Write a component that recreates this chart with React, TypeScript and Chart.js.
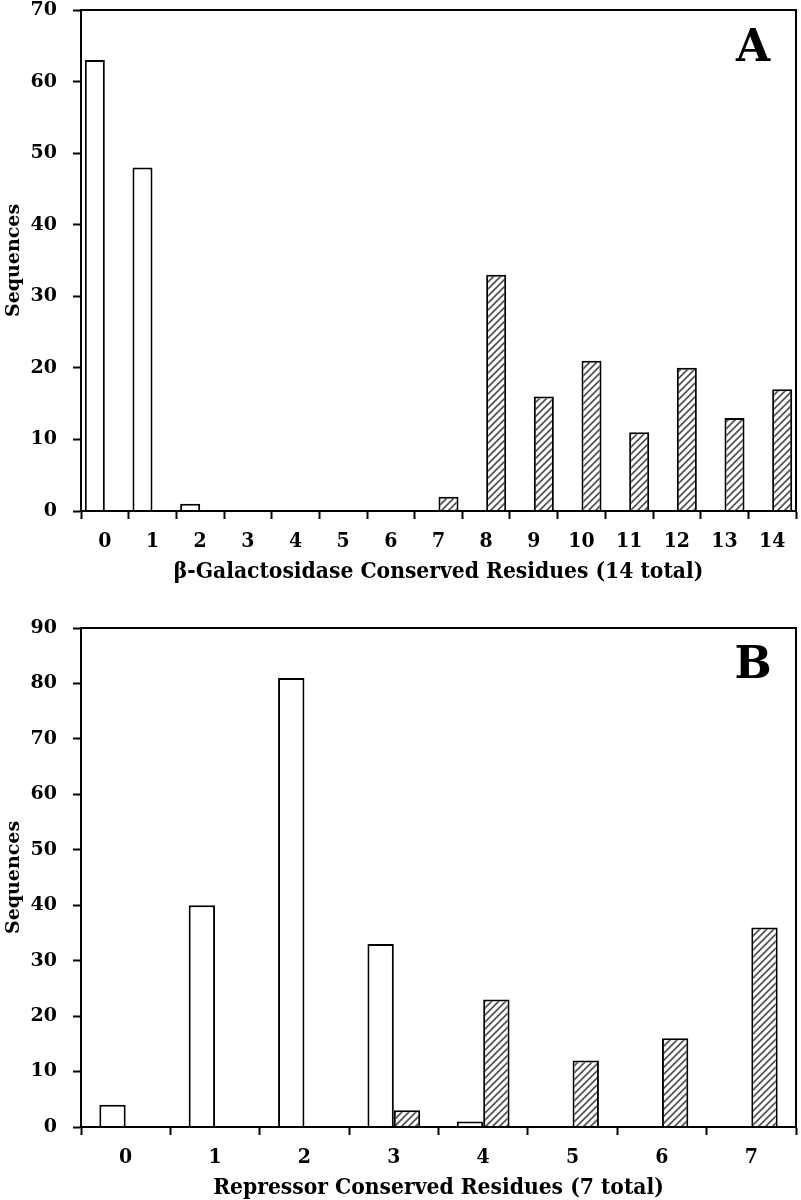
import React, { useEffect, useRef } from 'react';
import { Chart, registerables } from 'chart.js';

Chart.register(...registerables);

const categoriesA = ['0', '1', '2', '3', '4', '5', '6', '7', '8', '9', '10', '11', '12', '13', '14'];
const plainA = [63, 48, 1, 0, 0, 0, 0, 0, 0, 0, 0, 0, 0, 0, 0];
const hatchedA = [0, 0, 0, 0, 0, 0, 0, 2, 33, 16, 21, 11, 20, 13, 17];
const yMaxA = 70;
const titleA = 'β-Galactosidase Conserved Residues (14 total)';

const categoriesB = ['0', '1', '2', '3', '4', '5', '6', '7'];
const plainB = [4, 40, 81, 33, 1, 0, 0, 0];
const hatchedB = [0, 0, 0, 3, 23, 12, 16, 36];
const yMaxB = 90;
const titleB = 'Repressor Conserved Residues (7 total)';

const yTitle = 'Sequences';

const SERIF = "'DejaVu Serif', serif";
const COND = "'DejaVu Serif Condensed', 'DejaVu Serif', serif";

function makeHatch(): CanvasPattern | string {
  const c = document.createElement('canvas');
  const s = 7;
  c.width = s;
  c.height = s;
  const g = c.getContext('2d');
  if (!g) return '#888';
  g.fillStyle = '#ffffff';
  g.fillRect(0, 0, s, s);
  g.strokeStyle = '#555555';
  g.lineWidth = 1.8;
  g.beginPath();
  g.moveTo(-1, s + 1);
  g.lineTo(s + 1, -1);
  g.moveTo(-1, 1);
  g.lineTo(1, -1);
  g.moveTo(s - 1, s + 1);
  g.lineTo(s + 1, s - 1);
  g.stroke();
  const p = g.createPattern(c, 'repeat');
  return p || '#888';
}

const framePlugin = {
  id: 'frameAndLetter',
  afterDraw(chart: any, _args: any, opts: any) {
    const { ctx, chartArea } = chart;
    ctx.save();
    ctx.strokeStyle = '#000';
    ctx.lineWidth = 2;
    ctx.strokeRect(chartArea.left, chartArea.top, chartArea.right - chartArea.left, chartArea.bottom - chartArea.top);
    if (opts && opts.text) {
      ctx.fillStyle = '#000';
      ctx.font = `bold 44px ${SERIF}`;
      ctx.textAlign = 'center';
      ctx.textBaseline = 'middle';
      ctx.fillText(opts.text, chartArea.right - 43, chartArea.top + opts.dy);
    }
    ctx.restore();
  },
};

interface PanelProps {
  categories: string[];
  plain: number[];
  hatched: number[];
  yMax: number;
  title: string;
  letter: string;
  height: number;
  padTop: number;
  xAxisHeight: number;
  catPct: number;
  letterDy: number;
  titlePadBottom: number;
}

function Panel(p: PanelProps) {
  const ref = useRef<HTMLCanvasElement | null>(null);
  useEffect(() => {
    if (!ref.current) return;
    const hatch = makeHatch();
    const chart = new Chart(ref.current, {
      type: 'bar',
      data: {
        labels: p.categories,
        datasets: [
          {
            label: 'plain',
            data: p.plain,
            backgroundColor: '#ffffff',
            borderColor: '#000000',
            borderWidth: 2,
            barPercentage: 1,
            categoryPercentage: p.catPct,
          },
          {
            label: 'hatched',
            data: p.hatched,
            backgroundColor: hatch as any,
            borderColor: '#000000',
            borderWidth: 2,
            barPercentage: 1,
            categoryPercentage: p.catPct,
          },
        ],
      },
      options: {
        responsive: false,
        animation: false,
        devicePixelRatio: 1,
        layout: { padding: { top: p.padTop, right: 5, left: 0, bottom: 0 } },
        plugins: {
          legend: { display: false },
          tooltip: { enabled: false },
          frameAndLetter: { text: p.letter, dy: p.letterDy },
        } as any,
        scales: {
          x: {
            grid: {
              display: true,
              drawOnChartArea: false,
              drawTicks: true,
              tickLength: 8,
              tickColor: '#000',
              tickWidth: 2,
              offset: true,
            },
            border: { display: true, color: '#000', width: 2 },
            ticks: {
              color: '#000',
              padding: 10,
              font: { family: COND, weight: 'bold', size: 21 },
              maxRotation: 0,
              autoSkip: false,
            },
            title: {
              display: true,
              text: p.title,
              color: '#000',
              font: { family: COND, weight: 'bold', size: 22.6 },
              padding: { top: 0, bottom: p.titlePadBottom },
            },
            afterFit: (scale: any) => {
              scale.height = p.xAxisHeight;
              scale.paddingLeft = 0;
              scale.paddingRight = 0;
            },
          },
          y: {
            min: 0,
            max: p.yMax,
            ticks: {
              stepSize: 10,
              color: '#000',
              padding: 16,
              font: { family: SERIF, weight: 'bold', size: 19 },
            },
            grid: {
              display: true,
              drawOnChartArea: false,
              drawTicks: true,
              tickLength: 8,
              tickColor: '#000',
              tickWidth: 2,
            },
            border: { display: true, color: '#000', width: 2 },
            title: {
              display: true,
              text: yTitle,
              color: '#000',
              font: { family: SERIF, weight: 'bold', size: 19 },
              padding: { top: 3, bottom: 0 },
            },
            afterFit: (scale: any) => {
              scale.width = 81;
              scale.paddingTop = 0;
              scale.paddingBottom = 0;
            },
          },
        },
      } as any,
      plugins: [framePlugin as any],
    });
    return () => chart.destroy();
  }, []);
  return (
    <div style={{ width: 801, height: p.height }}>
      <canvas ref={ref} width={801} height={p.height} style={{ display: 'block' }} />
    </div>
  );
}

export default function App() {
  useEffect(() => {
    document.body.style.margin = '0';
  }, []);
  return (
    <div style={{ width: 801, height: 1200, background: '#fff', overflow: 'hidden' }}>
      <Panel
        categories={categoriesA}
        plain={plainA}
        hatched={hatchedA}
        yMax={yMaxA}
        title={titleA}
        letter="A"
        height={590}
        padTop={10}
        xAxisHeight={79}
        catPct={0.84}
        letterDy={40}
        titlePadBottom={4}
      />
      <Panel
        categories={categoriesB}
        plain={plainB}
        hatched={hatchedB}
        yMax={yMaxB}
        title={titleB}
        letter="B"
        height={612}
        padTop={38}
        xAxisHeight={75}
        catPct={0.59}
        letterDy={39}
        titlePadBottom={0}
      />
    </div>
  );
}
